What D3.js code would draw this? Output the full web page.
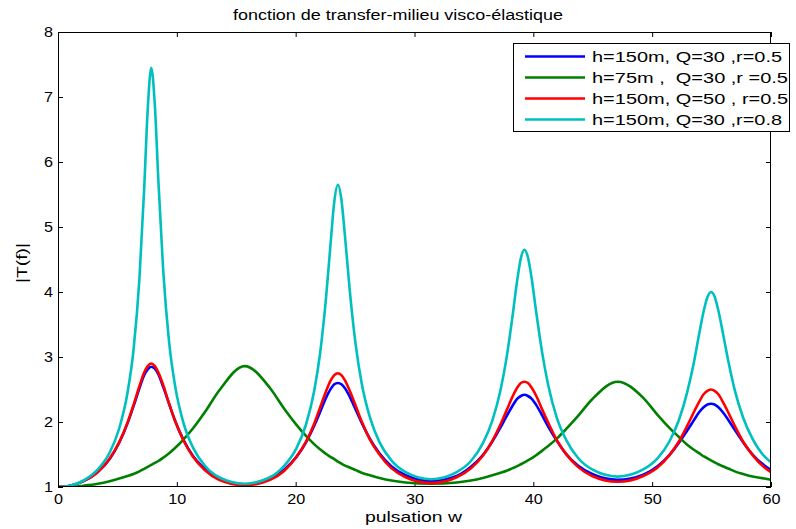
<!DOCTYPE html>
<html>
<head>
<meta charset="utf-8">
<script src="https://cdn.jsdelivr.net/npm/d3@7"></script>
<style>
body { margin: 0; background: #fff; }
svg { display: block; }
text { font-family: "Liberation Sans", Arial, sans-serif; }
</style>
</head>
<body>
<svg width="796" height="529"></svg>
<script>
// pulsation w (shared x values)
var pulsation = [0, 1,
  2.15, 3.35, 4.35, 5.15, 5.85, 6.35, 6.85, 7.25, 7.55, 7.85, 8.15, 8.45, 8.85, 9.35, 9.85, 10.55, 11.35, 12.35, 13.55,
  15.7,
  17.85, 19.05, 20.05, 20.85, 21.55, 22.05, 22.55, 22.95, 23.25, 23.55, 23.85, 24.15, 24.55, 25.05, 25.55, 26.25, 27.05, 28.05, 29.25,
  31.4,
  33.55, 34.75, 35.75, 36.55, 37.25, 37.75, 38.25, 38.65, 38.95, 39.25, 39.55, 39.85, 40.25, 40.75, 41.25, 41.95, 42.75, 43.75, 44.95,
  47.1,
  49.25, 50.45, 51.45, 52.25, 52.95, 53.45, 53.95, 54.35, 54.65, 54.95, 55.25, 55.55, 55.95, 56.45, 56.95, 57.65, 58.45, 59.45,
  60];

// |T(f)| for each case
var tBlue = [1.00, 1.02,
  1.09, 1.23, 1.43, 1.68, 1.98, 2.24, 2.52, 2.72, 2.81, 2.85, 2.82, 2.73, 2.54, 2.28, 2.02, 1.73, 1.48, 1.28, 1.13,
  1.04,
  1.13, 1.27, 1.46, 1.68, 1.94, 2.15, 2.37, 2.51, 2.58, 2.60, 2.58, 2.52, 2.39, 2.19, 1.99, 1.74, 1.52, 1.32, 1.18,
  1.09,
  1.17, 1.31, 1.49, 1.70, 1.92, 2.09, 2.25, 2.36, 2.40, 2.42, 2.40, 2.36, 2.26, 2.10, 1.93, 1.72, 1.51, 1.33, 1.20,
  1.11,
  1.19, 1.32, 1.49, 1.68, 1.87, 2.01, 2.15, 2.23, 2.27, 2.28, 2.27, 2.23, 2.15, 2.02, 1.88, 1.69, 1.50, 1.33,
  1.26];

var tGreen = [1.00, 1.00,
  1.02, 1.05, 1.09, 1.13, 1.17, 1.20, 1.24, 1.28, 1.31, 1.34, 1.37, 1.40, 1.45, 1.52, 1.60, 1.73, 1.90, 2.15, 2.48,
  2.86,
  2.52, 2.20, 1.96, 1.79, 1.66, 1.58, 1.51, 1.46, 1.43, 1.39, 1.36, 1.33, 1.30, 1.26, 1.22, 1.18, 1.14, 1.10, 1.07,
  1.05,
  1.07, 1.10, 1.14, 1.18, 1.22, 1.25, 1.29, 1.32, 1.35, 1.38, 1.41, 1.44, 1.49, 1.56, 1.63, 1.74, 1.89, 2.09, 2.35,
  2.62,
  2.37, 2.11, 1.91, 1.77, 1.65, 1.58, 1.52, 1.47, 1.44, 1.41, 1.38, 1.35, 1.32, 1.28, 1.24, 1.20, 1.16, 1.13,
  1.11];

var tRed = [1.00, 1.02,
  1.09, 1.23, 1.44, 1.69, 1.99, 2.26, 2.55, 2.76, 2.86, 2.90, 2.86, 2.76, 2.57, 2.28, 2.02, 1.72, 1.47, 1.26, 1.11,
  1.025,
  1.11, 1.25, 1.46, 1.69, 1.97, 2.22, 2.47, 2.64, 2.72, 2.75, 2.72, 2.64, 2.48, 2.25, 2.01, 1.73, 1.50, 1.29, 1.15,
  1.06,
  1.15, 1.29, 1.48, 1.71, 1.97, 2.18, 2.39, 2.53, 2.60, 2.62, 2.60, 2.53, 2.40, 2.19, 1.99, 1.73, 1.51, 1.31, 1.17,
  1.08,
  1.17, 1.30, 1.49, 1.70, 1.94, 2.13, 2.31, 2.43, 2.48, 2.50, 2.48, 2.43, 2.31, 2.13, 1.94, 1.70, 1.49, 1.30,
  1.23];

var tCyan = [1.00, 1.02,
  1.10, 1.27, 1.53, 1.90, 2.45, 3.10, 4.20, 5.58, 6.81, 7.45, 6.87, 5.70, 4.34, 3.23, 2.56, 1.99, 1.61, 1.33, 1.15,
  1.05,
  1.15, 1.33, 1.59, 1.95, 2.47, 3.05, 3.90, 4.77, 5.39, 5.65, 5.42, 4.86, 4.03, 3.19, 2.60, 2.07, 1.69, 1.41, 1.23,
  1.12,
  1.23, 1.40, 1.67, 2.02, 2.50, 2.99, 3.63, 4.19, 4.52, 4.65, 4.53, 4.22, 3.68, 3.06, 2.57, 2.08, 1.73, 1.45, 1.27,
  1.16,
  1.27, 1.44, 1.70, 2.03, 2.46, 2.86, 3.35, 3.72, 3.92, 4.00, 3.93, 3.73, 3.37, 2.90, 2.49, 2.07, 1.74, 1.47,
  1.38];

var legendLabels = ["h=150m, Q=30 ,r=0.5", "h=75m ,  Q=30 ,r =0.5", "h=150m, Q=50 , r=0.5", "h=150m, Q=30 ,r=0.8"];
var legendWidths = [190, 196, 196, 190];
var colors = ["#0000ff", "#008000", "#ff0000", "#00bfbf"];
var xTicks = [0, 10, 20, 30, 40, 50, 60];
var yTicks = [1, 2, 3, 4, 5, 6, 7, 8];

var series = [tBlue, tGreen, tRed, tCyan];

var svg = d3.select("svg");
var pl = 58, pr = 771, pt = 32, pb = 487;

var x = d3.scaleLinear().domain([0, 60]).range([pl, pr]);
var y = d3.scaleLinear().domain([1, 8]).range([pb, pt]);

svg.append("rect").attr("width", 796).attr("height", 529).attr("fill", "#fff");

svg.append("clipPath").attr("id", "plot")
  .append("rect")
  .attr("x", pl).attr("y", pt)
  .attr("width", pr - pl).attr("height", pb - pt);

// axes, ticks pointing inward like matlab; digits drawn a bit wide
function styleAxis(g) {
  g.select(".domain").remove();
  g.selectAll("line").attr("stroke", "#000");
  g.selectAll("text").attr("font-size", 14).attr("fill", "#000")
    .attr("font-family", "'Liberation Sans', Arial, sans-serif")
    .attr("lengthAdjust", "spacingAndGlyphs")
    .attr("textLength", function(d) { return String(d).length * 9; });
}

svg.append("g").attr("transform", "translate(0," + pb + ")")
  .call(d3.axisBottom(x).tickValues(xTicks).tickSizeInner(-5).tickSizeOuter(0).tickPadding(7).tickFormat(d3.format("d")))
  .call(styleAxis);
svg.append("g").attr("transform", "translate(0," + pt + ")")
  .call(d3.axisTop(x).tickValues(xTicks).tickSizeInner(-5).tickSizeOuter(0).tickFormat(""))
  .call(styleAxis);
svg.append("g").attr("transform", "translate(" + pl + ",0)")
  .call(d3.axisLeft(y).tickValues(yTicks).tickSizeInner(-5).tickSizeOuter(0).tickPadding(5).tickFormat(d3.format("d")))
  .call(styleAxis);
svg.append("g").attr("transform", "translate(" + pr + ",0)")
  .call(d3.axisRight(y).tickValues(yTicks).tickSizeInner(-5).tickSizeOuter(0).tickFormat(""))
  .call(styleAxis);

var line = d3.line()
  .x(function(d, i) { return x(pulsation[i]); })
  .y(function(d) { return y(d); })
  .curve(d3.curveMonotoneX);

for (var i = 0; i < series.length; i++) {
  svg.append("path")
    .datum(series[i])
    .attr("clip-path", "url(#plot)")
    .attr("fill", "none")
    .attr("stroke", colors[i])
    .attr("stroke-width", 2.6)
    .attr("stroke-linejoin", "round")
    .attr("d", line);
}

svg.append("rect")
  .attr("x", pl + 0.5).attr("y", pt + 0.5)
  .attr("width", pr - pl - 1).attr("height", pb - pt - 1)
  .attr("fill", "none").attr("stroke", "#000").attr("stroke-width", 1);

// titles
svg.append("text")
  .attr("x", 233).attr("y", 20)
  .attr("font-size", 14)
  .attr("textLength", 330).attr("lengthAdjust", "spacingAndGlyphs")
  .text("fonction de transfer-milieu visco-élastique");

svg.append("text")
  .attr("x", 365).attr("y", 522)
  .attr("font-size", 15)
  .attr("textLength", 97).attr("lengthAdjust", "spacingAndGlyphs")
  .text("pulsation w");

svg.append("text")
  .attr("transform", "translate(27,283) rotate(-90)")
  .attr("font-size", 14)
  .attr("textLength", 40).attr("lengthAdjust", "spacingAndGlyphs")
  .text("|T(f)|");

// legend
var legend = svg.append("g");
legend.append("rect")
  .attr("x", 513.5).attr("y", 43.5).attr("width", 276).attr("height", 88)
  .attr("fill", "#fff").attr("stroke", "#000");

legendLabels.forEach(function(lab, k) {
  var ly = 56.5 + k * 21;
  legend.append("line")
    .attr("x1", 525).attr("x2", 585).attr("y1", ly).attr("y2", ly)
    .attr("stroke", colors[k]).attr("stroke-width", 2.6);
  legend.append("text")
    .attr("x", 592).attr("y", ly + 5.5)
    .attr("font-size", 15)
    .attr("textLength", legendWidths[k]).attr("lengthAdjust", "spacingAndGlyphs")
    .style("white-space", "pre")
    .text(lab);
});
</script>
</body>
</html>
